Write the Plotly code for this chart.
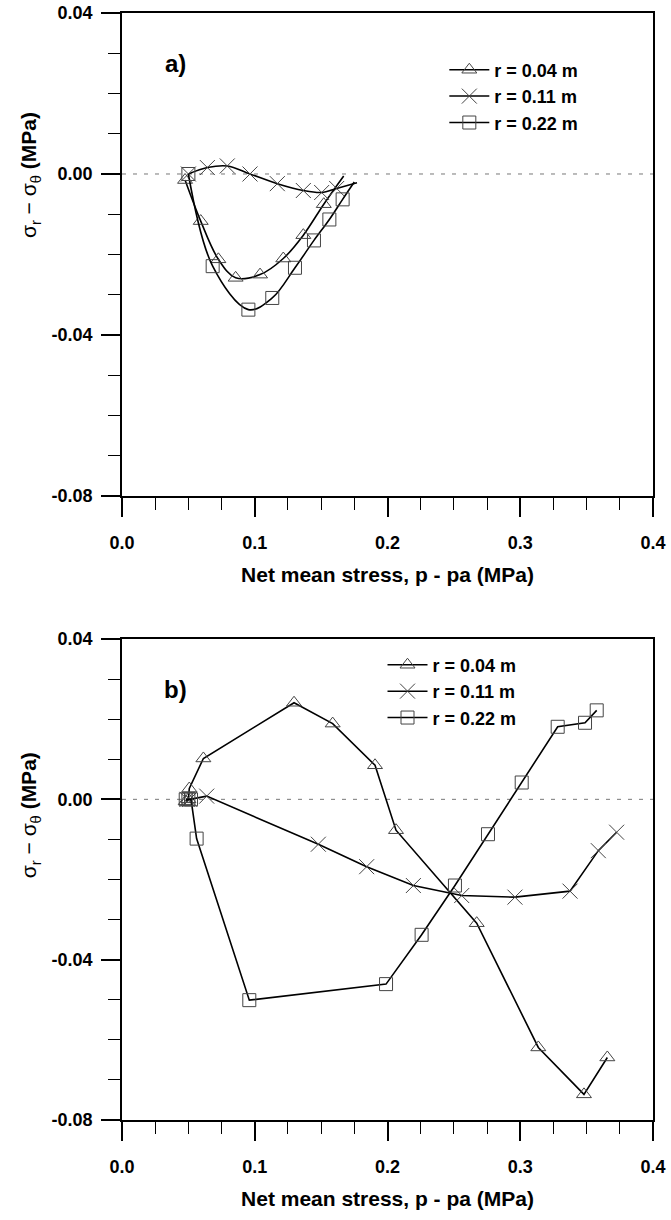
import plotly.graph_objects as go

# ---------------- data ----------------
# Panel a) measured points
a_tri_x = [0.0475, 0.0593, 0.0726, 0.0856, 0.1040, 0.1215, 0.1366, 0.1520]
a_tri_y = [-0.0015, -0.0117, -0.0212, -0.0258, -0.0250, -0.0210, -0.0152, -0.0075]
a_x_x = [0.0500, 0.0643, 0.0793, 0.0964, 0.1170, 0.1366, 0.1504, 0.1617]
a_x_y = [0.0000, 0.0016, 0.0020, 0.0000, -0.0024, -0.0041, -0.0046, -0.0036]
a_sq_x = [0.0500, 0.0683, 0.0952, 0.1132, 0.1303, 0.1446, 0.1562, 0.1662]
a_sq_y = [0.0000, -0.0229, -0.0337, -0.0308, -0.0233, -0.0165, -0.0113, -0.0063]
# Panel a) fitted-curve end points (curves run a little past the last marker)
a_tri_end = (0.1670, -0.0005)
a_x_end = (0.1770, -0.0022)
a_sq_end = (0.1750, -0.0020)

# Panel b) measured points
b_tri_x = [0.0480, 0.0500, 0.0507, 0.0613, 0.1296, 0.1587, 0.1906, 0.2064, 0.2672, 0.3136, 0.3480, 0.3656]
b_tri_y = [-0.0005, 0.0000, 0.0027, 0.0102, 0.0241, 0.0189, 0.0085, -0.0077, -0.0309, -0.0619, -0.0736, -0.0644]
b_x_x = [0.0490, 0.0510, 0.0638, 0.1479, 0.1843, 0.2195, 0.2559, 0.2960, 0.3375, 0.3588, 0.3726]
b_x_y = [0.0000, 0.0000, 0.0008, -0.0112, -0.0168, -0.0215, -0.0240, -0.0244, -0.0229, -0.0128, -0.0082]
b_sq_x = [0.0480, 0.0500, 0.0520, 0.0562, 0.0959, 0.1989, 0.2257, 0.2508, 0.2757, 0.3011, 0.3282, 0.3488, 0.3576]
b_sq_y = [0.0000, 0.0000, 0.0000, -0.0098, -0.0501, -0.0461, -0.0338, -0.0215, -0.0087, 0.0042, 0.0181, 0.0191, 0.0222]

series_names = ["r = 0.04 m", "r = 0.11 m", "r = 0.22 m"]
x_tick_vals = [0.0, 0.1, 0.2, 0.3, 0.4]
x_tick_text = ["0.0", "0.1", "0.2", "0.3", "0.4"]
y_tick_vals = [0.04, 0.0, -0.04, -0.08]
y_tick_text = ["0.04", "0.00", "-0.04", "-0.08"]

# ---------------- style ----------------
FONT = "Liberation Sans"
symbols = ["triangle-up-open", "x-thin-open", "square-open"]
msizes = [13, 15, 13]
mcolor = "#444444"
lcolor = "black"

fig = go.Figure()

def add_series(xs, ys, sym, size, xa, ya, spline, end=None):
    lx = list(xs) + ([end[0]] if end else [])
    ly = list(ys) + ([end[1]] if end else [])
    fig.add_trace(go.Scatter(
        x=lx, y=ly, mode="lines", xaxis=xa, yaxis=ya, showlegend=False,
        line=dict(color=lcolor, width=1.6, shape="spline" if spline else "linear",
                  smoothing=1.0 if spline else None),
        hoverinfo="skip"))
    fig.add_trace(go.Scatter(
        x=xs, y=ys, mode="markers", xaxis=xa, yaxis=ya, showlegend=False,
        marker=dict(symbol=sym, size=size, color=mcolor, line=dict(width=1, color=mcolor))))

add_series(a_tri_x, a_tri_y, symbols[0], msizes[0], "x", "y", True, a_tri_end)
add_series(a_x_x, a_x_y, symbols[1], msizes[1], "x", "y", True, a_x_end)
add_series(a_sq_x, a_sq_y, symbols[2], msizes[2], "x", "y", True, a_sq_end)
add_series(b_tri_x, b_tri_y, symbols[0], msizes[0], "x2", "y2", False)
add_series(b_x_x, b_x_y, symbols[1], msizes[1], "x2", "y2", False)
add_series(b_sq_x, b_sq_y, symbols[2], msizes[2], "x2", "y2", False)

# legend entries
for leg, xa, ya in [("legend", "x", "y"), ("legend2", "x2", "y2")]:
    for name, sym, size in zip(series_names, symbols, msizes):
        fig.add_trace(go.Scatter(
            x=[None], y=[None], mode="lines+markers", name=name, legend=leg,
            xaxis=xa, yaxis=ya,
            line=dict(color=lcolor, width=1.5),
            marker=dict(symbol=sym, size=size, color=mcolor, line=dict(width=1, color=mcolor))))

tickfont = dict(family=FONT, size=18, color="black", weight="bold")

def xaxis_cfg(anchor):
    return dict(
        anchor=anchor, domain=[0, 1], range=[0, 0.4], automargin=False,
        tickmode="array", tickvals=x_tick_vals, ticktext=x_tick_text,
        ticks="outside", ticklen=19, tickwidth=1.6, tickcolor="black",
        ticklabelstandoff=11,
        minor=dict(tickmode="linear", tick0=0, dtick=0.025, ticks="outside",
                   ticklen=12, tickwidth=1.3, tickcolor="black", showgrid=False),
        showline=True, linecolor="black", linewidth=1.6, mirror=True,
        showgrid=False, zeroline=False, tickfont=tickfont,
        title=dict(text="Net mean stress, p - pa (MPa)", standoff=15,
                   font=dict(family=FONT, size=21, color="black", weight="bold")))

def yaxis_cfg(anchor, domain):
    return dict(
        anchor=anchor, domain=domain, range=[-0.08, 0.04], automargin=False,
        tickmode="array", tickvals=y_tick_vals, ticktext=y_tick_text,
        ticks="outside", ticklen=19, tickwidth=1.6, tickcolor="black",
        ticklabelstandoff=5,
        minor=dict(tickmode="linear", tick0=0, dtick=0.01, ticks="outside",
                   ticklen=12, tickwidth=1.3, tickcolor="black", showgrid=False),
        showline=True, linecolor="black", linewidth=1.6, mirror=True,
        showgrid=False, zeroline=False, tickfont=tickfont)

legfont = dict(family=FONT, size=18, color="black", weight="bold")

fig.update_layout(
    width=671, height=1220,
    margin=dict(l=122, r=18, t=13, b=100, autoexpand=False),
    paper_bgcolor="white", plot_bgcolor="white",
    xaxis=xaxis_cfg("y"), yaxis=yaxis_cfg("x", [0.5637, 1.0]),
    xaxis2=xaxis_cfg("y2"), yaxis2=yaxis_cfg("x2", [0.0, 0.4345]),
    legend=dict(x=0.607, y=0.9652, xanchor="left", yanchor="top", font=legfont,
                bgcolor="rgba(0,0,0,0)", tracegroupgap=0, itemwidth=40),
    legend2=dict(x=0.4906, y=0.4277, xanchor="left", yanchor="top", font=legfont,
                 bgcolor="rgba(0,0,0,0)", tracegroupgap=0, itemwidth=40),
    showlegend=True,
)

# dashed zero lines
for xr, yr in [("x", "y"), ("x2", "y2")]:
    fig.add_shape(type="line", xref=xr, yref=yr, x0=0, x1=0.4, y0=0, y1=0,
                  line=dict(color="#777777", width=1, dash="4px,7px"), layer="below")

# panel labels
fig.add_annotation(x=0.04, y=0.0274, xref="x", yref="y", text="a)", showarrow=False,
                   font=dict(family=FONT, size=24, color="black", weight="bold"))
fig.add_annotation(x=0.04, y=0.0273, xref="x2", yref="y2", text="b)", showarrow=False,
                   font=dict(family=FONT, size=24, color="black", weight="bold"))

# y-axis titles
ytitle = "σ<sub>r</sub> − σ<sub>θ</sub> <b>(MPa)</b>"
for ypos in [0.8537, 0.2755]:
    fig.add_annotation(x=-0.173, y=ypos, xref="paper", yref="paper", text=ytitle,
                       textangle=-90, showarrow=False, xanchor="center", yanchor="middle",
                       font=dict(family=FONT, size=21, color="black"))

fig.write_html("out.html")
